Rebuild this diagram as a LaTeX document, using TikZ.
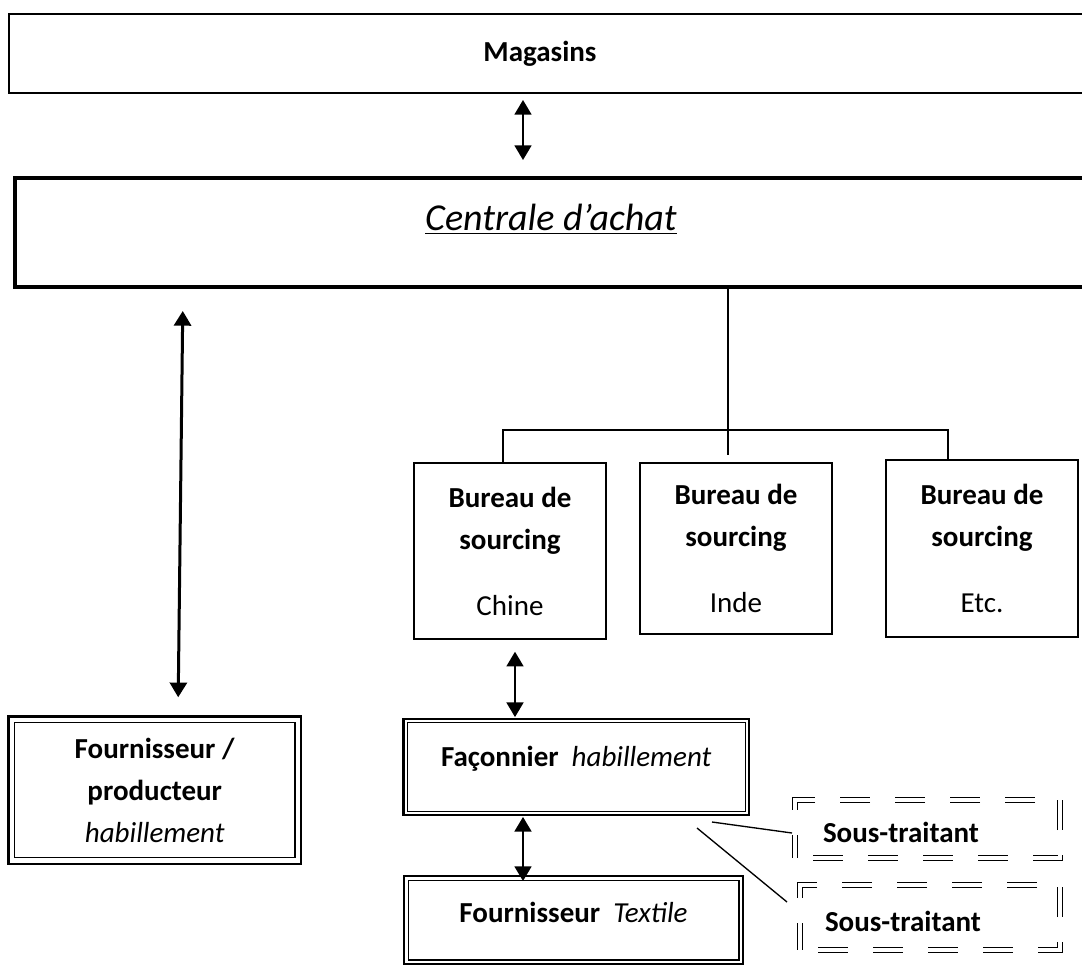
\documentclass[tikz,border=0pt]{standalone}
\usepackage{fontspec}
\setmainfont{Carlito}
\usepackage{tikz}
\usetikzlibrary{arrows.meta}

\newcommand\boxfont{\fontsize{21.75}{31.5}\selectfont}
\newcommand\centfont{\fontsize{28.5}{34}\selectfont}

\tikzset{
	box/.style={draw, line width=1.1pt, inner sep=0pt, align=center, font=\boxfont},
	frame/.style={draw, line width=1.9pt, inner sep=0pt, align=center, font=\boxfont},
	thinframe/.style={line width=1.1pt},
	subbox/.style={draw, double, line width=0.9pt, double distance=2.4pt,
		dash pattern=on 22.5pt off 18.75pt, dash phase=27.75pt,
		inner ysep=0pt, text depth=0pt, align=left, font=\boxfont\bfseries},
	link/.style={line width=1pt},
	bothways/.style={{Triangle[width=12.75pt,length=11pt]}-{Triangle[width=12.75pt,length=11pt]}, line width=1.3pt}
}

\begin{document}
\begin{tikzpicture}[x=0.75pt,y=-0.75pt]
	\newcommand\innerbox[2]{\draw[thinframe] ([shift={(#2,#2)}]#1.north west) rectangle ([shift={(-#2,-#2)}]#1.south east);}

	\useasboundingbox (0,0) rectangle (1082,968);
	\clip (0,0) rectangle (1082,968);

	% top boxes
	\node[draw, line width=1.5pt, minimum width=812.25pt, minimum height=59.25pt,
		label={[xshift=-7.9pt, font=\boxfont]center:\textbf{Magasins}}] (mag) at (550.5,53.5) {};
	\node[draw, line width=3.4pt, minimum width=813.75pt, minimum height=81.75pt,
		label={[xshift=-4.9pt, yshift=10pt, font=\centfont]center:\underline{\textit{Centrale d’achat}}}] (cen) at (557.5,232.5) {};

	% bureaux de sourcing
	\node[box, minimum width=144pt, minimum height=132pt] (chine) at (510,551) {\textbf{Bureau de}\\\textbf{sourcing}\\[18pt]Chine};
	\node[box, minimum width=144pt, minimum height=128.25pt] (inde) at (736,548.5) {\textbf{Bureau de}\\\textbf{sourcing}\\[18pt]Inde};
	\node[box, minimum width=144pt, minimum height=132.75pt] (etc) at (982,548.5) {\textbf{Bureau de}\\\textbf{sourcing}\\[18pt]Etc.};

	% fournisseurs
	\node[frame, minimum width=219.4pt, minimum height=110.6pt] (prod) at (154.75,790.25) {\textbf{Fournisseur /}\\\textbf{producteur}\\\textit{habillement}};
	\innerbox{prod}{7.5}
	\node[frame, minimum width=259.1pt, minimum height=72pt, text height=9pt, text depth=10.5pt] (fac) at (576.25,767) {\textbf{Façonnier}\ \ \textit{habillement}};
	\innerbox{fac}{5}
	\node[frame, minimum width=254.25pt, minimum height=66pt, text height=10.5pt, text depth=7.5pt] (tex) at (573.5,920) {\textbf{Fournisseur}\ \ \textit{Textile}};
	\innerbox{tex}{5.5}

	% sous-traitants
	\node[subbox, inner xsep=21pt, text width=156.75pt, minimum height=43.5pt, text height=19.5pt] (sub1) at (927.5,829) {Sous-traitant};
	\node[subbox, inner xsep=18.75pt, text width=157.5pt, minimum height=48.75pt, text height=20.25pt] (sub2) at (930,917.5) {Sous-traitant};

	% tree
	\coordinate (hub) at (728,430);
	\coordinate (hubend) at (728,455);
	\draw[link] (cen.south -| hub) -- (hubend);
	\draw[link] ([shift={(-7,0)}]chine.north) |- (hub) -| ([shift={(-34,0)}]etc.north);

	% arrows
	\coordinate (ma) at (523,0);
	\coordinate (la) at (183,0);
	\coordinate (lb) at (178,0);
	\coordinate (cf) at (515,0);
	\coordinate (ft) at (523,0);
	\draw[bothways, shorten <=4.5pt, shorten >=11.8pt] (mag.south -| ma) -- (cen.north -| ma);
	\draw[bothways, line width=2.25pt, shorten <=16.3pt, shorten >=13.5pt] (cen.south -| la) -- (prod.north -| lb);
	\draw[bothways, shorten <=9pt, shorten >=0.5pt] (chine.south -| cf) -- (fac.north -| cf);
	\draw[bothways, shorten <=0.5pt, shorten >=-4.7pt] (fac.south -| ft) -- (tex.north -| ft);

	% lignes vers sous-traitants
	\coordinate (f1) at (712,822);
	\coordinate (s1) at (792,833);
	\coordinate (f2) at (697,828);
	\coordinate (s2) at (787,902);
	\draw[link] (f1) -- (s1);
	\draw[link] (f2) -- (s2);
\end{tikzpicture}
\end{document}
